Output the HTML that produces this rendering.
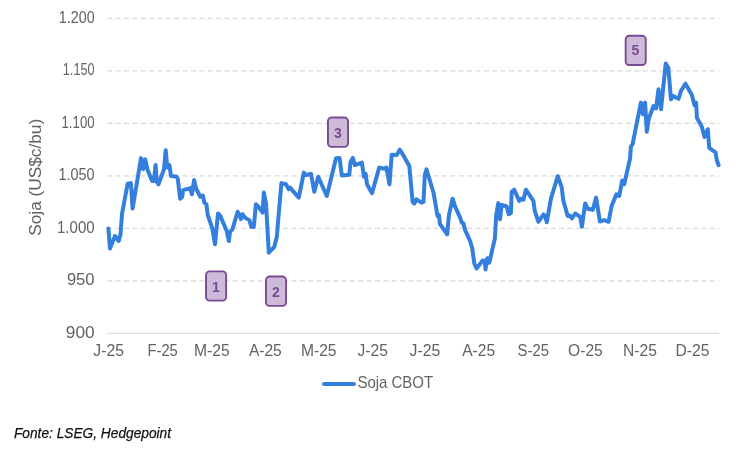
<!DOCTYPE html>
<html><head><meta charset="utf-8"><title>Soja CBOT</title>
<style>
html,body{margin:0;padding:0;background:#fff;}
body{width:752px;height:449px;overflow:hidden;font-family:"Liberation Sans",sans-serif;}
svg{display:block;}
.g{stroke:#d9d9d9;stroke-width:1.1;stroke-dasharray:5 3.366;}
.ax{stroke:#d9d9d9;stroke-width:1.1;}
.yl{font:16.2px "Liberation Sans",sans-serif;fill:#626262;}
.xl{font:15.8px "Liberation Sans",sans-serif;fill:#626262;}
.ln{fill:none;stroke:#347fde;stroke-width:4.0;stroke-linejoin:round;stroke-linecap:round;filter:blur(0.4px);}
.b{fill:#cdbad9;stroke:#7a4b92;stroke-width:1.9;}
.bt{font:bold 14px "Liberation Sans",sans-serif;fill:#7a4b92;text-anchor:middle;}
.lg{font:15.9px "Liberation Sans",sans-serif;fill:#626262;}
.yt{font:16.6px "Liberation Sans",sans-serif;fill:#626262;}
.src{font:italic 15px "Liberation Sans",sans-serif;fill:#111;stroke:#111;stroke-width:0.25;}
</style></head><body>
<svg width="752" height="449" viewBox="0 0 752 449">
<rect width="752" height="449" fill="#fff"/>
<line x1="107.3" y1="18.35" x2="719.2" y2="18.35" class="g"/>
<line x1="107.3" y1="70.85" x2="719.2" y2="70.85" class="g"/>
<line x1="107.3" y1="123.35" x2="719.2" y2="123.35" class="g"/>
<line x1="107.3" y1="175.85" x2="719.2" y2="175.85" class="g"/>
<line x1="107.3" y1="228.35" x2="719.2" y2="228.35" class="g"/>
<line x1="107.3" y1="280.85" x2="719.2" y2="280.85" class="g"/>
<line x1="107" y1="333.2" x2="719" y2="333.2" class="ax"/>

<text x="58.8" y="22.7" class="yl" textLength="35.8" lengthAdjust="spacingAndGlyphs">1.200</text>
<text x="62.8" y="75.2" class="yl" textLength="31.8" lengthAdjust="spacingAndGlyphs">1.150</text>
<text x="61.5" y="127.7" class="yl" textLength="33.1" lengthAdjust="spacingAndGlyphs">1.100</text>
<text x="58.5" y="180.2" class="yl" textLength="36.1" lengthAdjust="spacingAndGlyphs">1.050</text>
<text x="57.0" y="232.7" class="yl" textLength="37.6" lengthAdjust="spacingAndGlyphs">1.000</text>
<text x="66.9" y="285.2" class="yl" textLength="27.7" lengthAdjust="spacingAndGlyphs">950</text>
<text x="65.8" y="337.7" class="yl" textLength="28.8" lengthAdjust="spacingAndGlyphs">900</text>

<text x="93.3" y="355.8" class="xl" textLength="30.6" lengthAdjust="spacingAndGlyphs">J-25</text>
<text x="147.5" y="355.8" class="xl" textLength="30.3" lengthAdjust="spacingAndGlyphs">F-25</text>
<text x="194.0" y="355.8" class="xl" textLength="35.7" lengthAdjust="spacingAndGlyphs">M-25</text>
<text x="248.9" y="355.8" class="xl" textLength="32.9" lengthAdjust="spacingAndGlyphs">A-25</text>
<text x="300.9" y="355.8" class="xl" textLength="35.7" lengthAdjust="spacingAndGlyphs">M-25</text>
<text x="357.5" y="355.8" class="xl" textLength="30.3" lengthAdjust="spacingAndGlyphs">J-25</text>
<text x="409.6" y="355.8" class="xl" textLength="30.7" lengthAdjust="spacingAndGlyphs">J-25</text>
<text x="462.2" y="355.8" class="xl" textLength="33.0" lengthAdjust="spacingAndGlyphs">A-25</text>
<text x="517.6" y="355.8" class="xl" textLength="31.3" lengthAdjust="spacingAndGlyphs">S-25</text>
<text x="568.1" y="355.8" class="xl" textLength="34.7" lengthAdjust="spacingAndGlyphs">O-25</text>
<text x="623.0" y="355.8" class="xl" textLength="33.9" lengthAdjust="spacingAndGlyphs">N-25</text>
<text x="675.5" y="355.8" class="xl" textLength="34.0" lengthAdjust="spacingAndGlyphs">D-25</text>

<text transform="translate(41.2,235.8) rotate(-90)" class="yt" textLength="117" lengthAdjust="spacingAndGlyphs">Soja (US$c/bu)</text>
<polyline class="ln" points="108.4,228.4 110.0,248.5 115.0,236.0 118.7,241.0 120.4,235.1 122.1,213.4 127.6,183.8 130.9,183.1 132.6,208.5 141.0,158.1 143.1,169.2 145.1,159.2 147.6,170.1 152.1,180.9 153.8,180.9 155.6,165.1 156.8,181.8 158.5,184.3 164.0,169.2 165.7,150.2 167.3,167.6 169.4,165.1 171.0,175.9 176.0,176.4 177.7,178.4 180.2,198.8 182.2,196.8 183.2,190.1 190.2,188.1 191.9,194.3 194.1,180.1 196.1,188.5 200.3,196.8 202.8,195.5 204.4,202.7 206.4,204.3 207.8,215.1 212.3,228.4 215.0,244.3 218.0,213.4 220.3,215.9 226.7,231.0 228.9,241.0 230.0,231.8 232.5,229.3 237.6,211.7 239.7,215.1 240.9,219.2 242.6,214.2 245.1,217.6 249.3,220.1 251.4,226.8 253.8,227.1 255.9,204.2 258.4,206.7 262.6,212.6 263.8,192.5 266.0,203.4 268.8,252.7 274.3,246.8 276.8,236.8 278.5,216.7 281.4,183.1 285.9,184.3 288.7,189.3 290.1,187.6 298.8,197.7 303.8,172.6 306.0,175.1 311.0,173.8 314.3,191.8 318.2,176.8 326.8,196.0 336.0,158.3 339.6,158.0 341.8,175.4 349.3,174.7 350.5,162.0 352.8,157.9 354.9,165.1 361.9,162.6 363.9,176.8 365.6,173.8 367.0,184.3 372.0,193.2 379.2,167.6 384.2,168.8 386.4,167.6 389.5,184.3 391.7,154.7 396.7,155.1 399.7,149.7 401.7,152.5 409.3,165.9 412.6,201.8 414.3,203.5 416.4,199.3 421.5,202.7 423.5,201.8 424.8,175.1 426.5,169.3 433.5,192.7 437.5,215.9 438.9,215.1 440.0,224.2 447.2,234.3 448.9,215.1 452.6,198.7 455.1,206.7 460.1,217.6 461.8,222.6 463.4,223.4 465.1,230.1 470.1,241.0 472.3,248.5 474.3,263.5 476.5,268.5 482.7,260.5 484.8,261.0 485.5,269.4 487.2,258.2 489.3,262.7 491.8,251.8 494.9,238.4 496.2,215.1 498.3,203.1 500.0,219.3 501.7,204.8 506.7,206.5 508.7,214.3 510.9,213.1 511.7,191.8 514.2,189.7 519.2,200.9 520.9,198.8 523.4,199.8 525.9,189.7 533.4,200.9 534.8,211.0 538.4,221.8 543.5,214.3 545.1,216.0 546.8,222.2 551.0,198.4 557.8,176.2 561.8,187.6 563.2,200.1 567.7,216.0 569.9,215.5 571.9,218.5 575.2,213.5 580.2,216.8 581.9,226.8 585.2,203.4 587.7,208.8 592.8,209.8 596.1,197.6 599.9,221.5 604.5,220.2 608.6,221.8 611.6,206.0 616.4,194.3 619.2,196.0 622.2,180.5 624.2,184.3 630.1,158.4 630.9,146.7 632.6,144.2 640.9,102.6 643.1,114.3 645.1,102.6 646.8,131.7 648.8,118.5 653.5,106.0 656.0,108.5 658.5,89.3 661.0,109.3 665.7,63.6 668.3,67.5 671.0,99.3 672.7,95.9 678.5,98.8 681.0,90.9 685.5,83.7 691.9,95.1 694.4,105.1 696.1,102.6 696.9,117.7 701.9,126.9 704.5,137.0 707.8,129.2 709.2,147.8 715.6,152.5 716.8,160.2 718.6,165.2"/>
<rect x="206.05" y="271.35" width="20.10" height="29.30" rx="3.6" class="b"/>
<text x="215.9" y="291.5" class="bt">1</text>
<rect x="265.95" y="276.55" width="20.10" height="29.30" rx="3.6" class="b"/>
<text x="275.8" y="296.7" class="bt">2</text>
<rect x="327.95" y="117.55" width="20.10" height="29.30" rx="3.6" class="b"/>
<text x="337.8" y="137.7" class="bt">3</text>
<rect x="625.65" y="35.75" width="20.10" height="29.30" rx="3.6" class="b"/>
<text x="635.5" y="55.3" class="bt">5</text>

<line x1="324.1" y1="384" x2="353.9" y2="384" stroke="#347fde" stroke-width="4.2" stroke-linecap="round"/>
<text x="357.4" y="387.6" class="lg" textLength="75.8" lengthAdjust="spacingAndGlyphs">Soja CBOT</text>
<text x="14" y="437.9" class="src" textLength="157" lengthAdjust="spacingAndGlyphs">Fonte: LSEG, Hedgepoint</text>
</svg>
</body></html>
